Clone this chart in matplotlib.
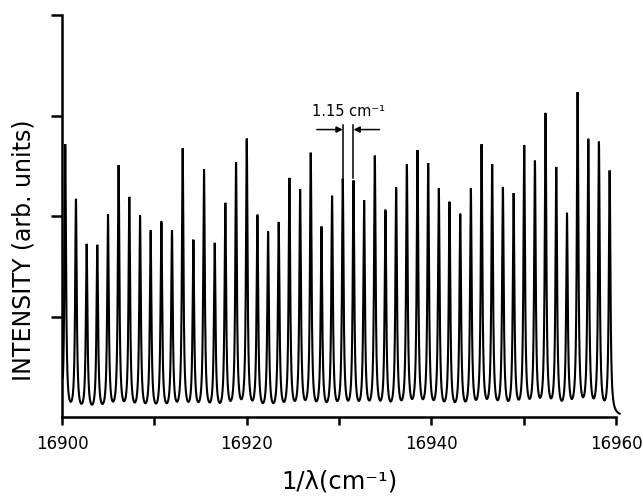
import numpy as np
import matplotlib
matplotlib.use("Agg")
import matplotlib.pyplot as plt

# Peak centres (cm^-1)
peak_pos = [16900.35, 16901.51, 16902.67, 16903.82, 16904.98, 16906.13, 16907.29, 16908.45,
            16909.60, 16910.76, 16911.91, 16913.07, 16914.23, 16915.38, 16916.54, 16917.69,
            16918.85, 16920.01, 16921.16, 16922.32, 16923.47, 16924.63, 16925.79, 16926.94,
            16928.10, 16929.25, 16930.41, 16931.57, 16932.72, 16933.88, 16935.03, 16936.19,
            16937.35, 16938.50, 16939.66, 16940.81, 16941.97, 16943.13, 16944.28, 16945.44,
            16946.59, 16947.75, 16948.91, 16950.06, 16951.22, 16952.37, 16953.53, 16954.69,
            16955.84, 16957.00, 16958.15, 16959.31]
# Peak heights (arb. units, axis 0-4)
peak_h = [2.69, 2.13, 1.68, 1.67, 1.97, 2.46, 2.14, 1.96, 1.81, 1.90, 1.81, 2.63, 1.71,
          2.42, 1.68, 2.08, 2.48, 2.72, 1.96, 1.80, 1.89, 2.33, 2.21, 2.58, 1.84, 2.15,
          2.32, 2.30, 2.10, 2.55, 2.00, 2.23, 2.46, 2.60, 2.47, 2.22, 2.09, 1.97, 2.22,
          2.66, 2.46, 2.23, 2.17, 2.65, 2.49, 2.97, 2.43, 1.97, 3.18, 2.71, 2.69, 2.42]
half_width = 0.1   # Lorentzian HWHM, cm^-1

x_ticks = [16900, 16910, 16920, 16930, 16940, 16950, 16960]
x_ticklabels = ["16900", "", "16920", "", "16940", "", "16960"]
y_ticks = [1, 2, 3, 4]

x = np.linspace(16900.1, 16960.4, 15000)
y = np.zeros_like(x)
for p, h in zip(peak_pos, peak_h):
    y += h * half_width**2 / ((x - p) ** 2 + half_width**2)

fig = plt.figure(figsize=(6.43, 4.97), dpi=100)
ax = fig.add_axes([62 / 643, 1 - 417 / 497, (616 - 62) / 643, (417 - 15) / 497])
ax.plot(x, y, color="black", lw=1.5, clip_on=False, solid_joinstyle="miter")

ax.set_xlim(16900, 16960)
ax.set_ylim(0, 4)
ax.set_xticks(x_ticks)
ax.set_xticklabels(x_ticklabels, fontsize=12)
ax.set_yticks(y_ticks)
ax.set_yticklabels([])
for s in ["top", "right"]:
    ax.spines[s].set_visible(False)
for s in ["left", "bottom"]:
    ax.spines[s].set_linewidth(1.8)
ax.tick_params(axis="x", direction="out", length=6, width=1.8, pad=7)
ax.tick_params(axis="y", direction="out", length=8, width=1.8)

fig.text(24 / 643, 1 - 250 / 497, "INTENSITY (arb. units)", rotation=90,
         ha="center", va="center", fontsize=17)
fig.text(339 / 643, 1 - 482 / 497, "1/λ(cm⁻¹)", ha="center", va="center", fontsize=17.5)

# annotation for the 1.15 cm^-1 spacing
p1, p2 = peak_pos[26], peak_pos[27]
ax.plot([p1, p1], [2.38, 2.91], color="black", lw=1.1)
ax.plot([p2, p2], [2.38, 2.91], color="black", lw=1.1)
ax.annotate("", xy=(p1, 2.86), xytext=(16927.6, 2.86),
            arrowprops=dict(arrowstyle="-|>", color="black", lw=1.1, mutation_scale=9,
                            shrinkA=0, shrinkB=0))
ax.annotate("", xy=(p2, 2.86), xytext=(16934.4, 2.86),
            arrowprops=dict(arrowstyle="-|>", color="black", lw=1.1, mutation_scale=9,
                            shrinkA=0, shrinkB=0))
ax.text(16931.0, 3.04, "1.15 cm⁻¹", ha="center", va="center", fontsize=10.5)

fig.savefig("out.png", dpi=100)
